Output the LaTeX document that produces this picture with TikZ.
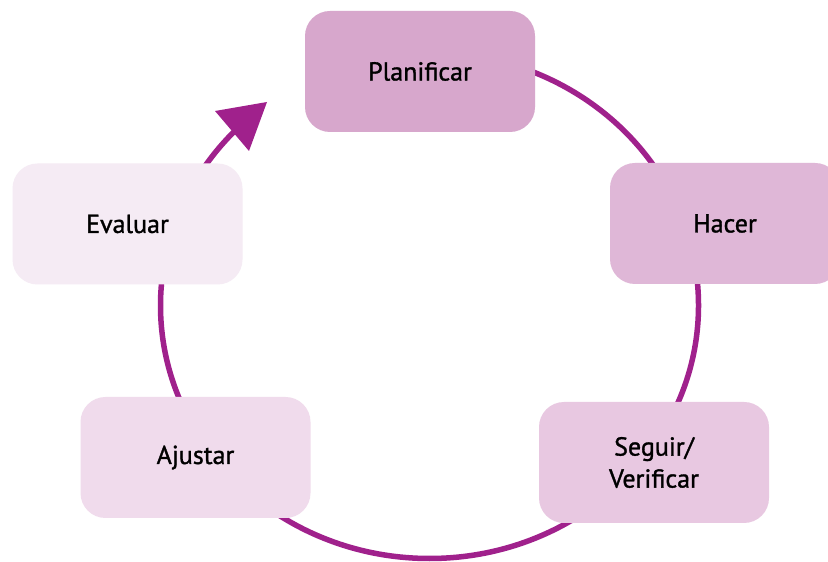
\documentclass[tikz,border=0pt]{standalone}
\usepackage{fontspec}
\setmainfont{PT Sans}[BoldFont={PT Sans}, BoldFeatures={FakeBold=1.2}]
\definecolor{cycpurple}{HTML}{A0218C}
\definecolor{cpl}{HTML}{D7A7CC}
\definecolor{cha}{HTML}{DFB7D7}
\definecolor{cse}{HTML}{E8C8E1}
\definecolor{caj}{HTML}{F0DBEC}
\definecolor{cev}{HTML}{F5EBF4}
\tikzset{
  stagebox/.style={rectangle, rounded corners=12.5pt, draw=none,
    minimum width=115pt, minimum height=60.5pt, inner sep=0pt,
    align=center, font=\fontsize{13}{16}\selectfont\bfseries, text=black},
  cycline/.style={draw=cycpurple, line width=2.75pt},
}
\begin{document}
\begin{tikzpicture}[x=0.5pt,y=0.5pt]
\useasboundingbox (0,0) rectangle (828,561);
\fill[white] (0,0) rectangle (828,561);
\coordinate (ctr) at (429.5,255.5);
% cycle ellipse
\draw[cycline] (ctr) ++(90:269 and 253) arc[start angle=90, end angle=-226, x radius=134.5pt, y radius=126.5pt];
% arrow head
\coordinate (tip) at (267,459);
\coordinate (b1) at (215,450);
\coordinate (b2) at (249,410);
\fill[cycpurple] (tip) -- (b1) -- (b2) -- cycle;
% stages
\node[stagebox, fill=cpl] (plan) at (420,489.5) {Planificar};
\node[stagebox, fill=cha] (hacer) at (725,337.5) {Hacer};
\node[stagebox, fill=cse] (seguir) at (654,98.5) {Seguir/\\Verificar};
\node[stagebox, fill=caj] (ajustar) at (195.5,103.5) {Ajustar};
\node[stagebox, fill=cev] (evaluar) at (127.5,337) {Evaluar};
\end{tikzpicture}
\end{document}
